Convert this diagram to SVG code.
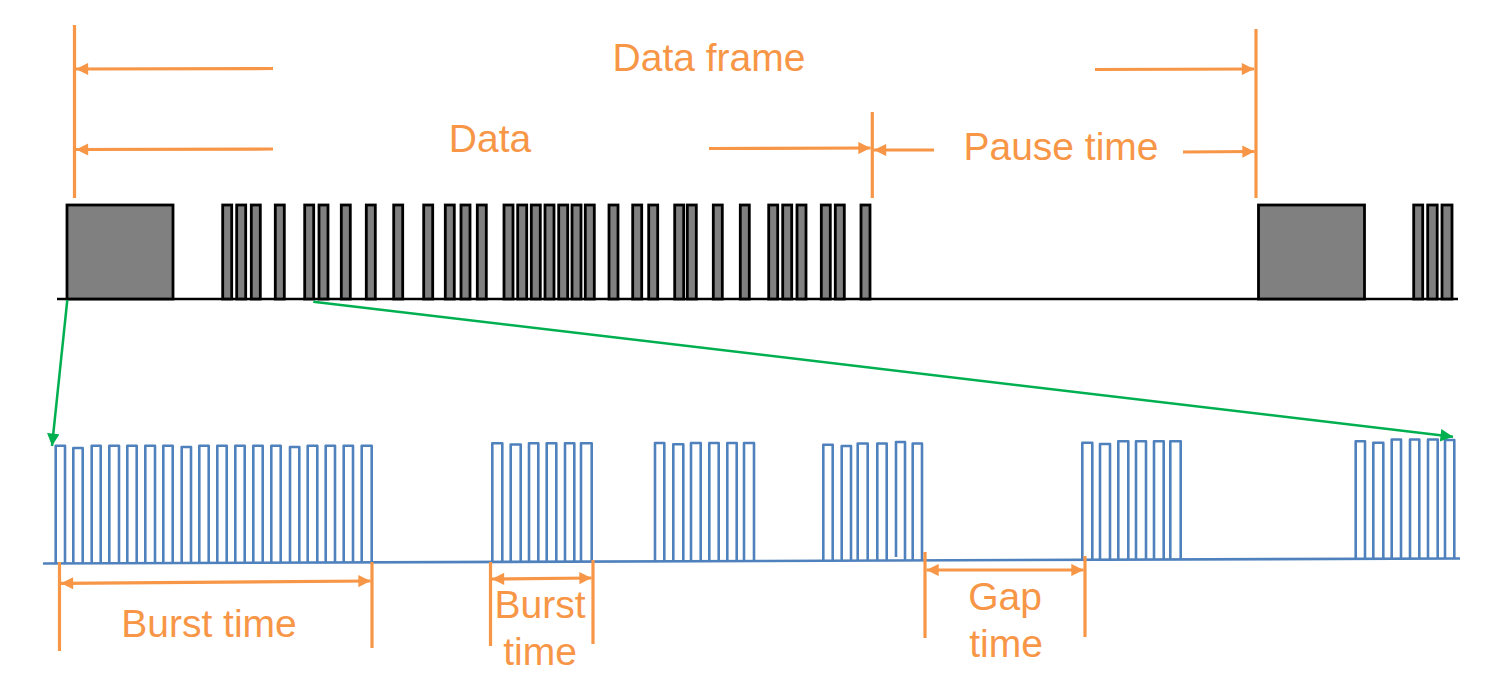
<svg xmlns="http://www.w3.org/2000/svg" width="1496" height="680" viewBox="0 0 1496 680">
<style>
.o{stroke:#F79646;stroke-width:3.2;fill:none}
.t{fill:#F79646;font-family:"Liberation Sans",Arial,sans-serif;font-size:39px}
.p{fill:#808080;stroke:#000;stroke-width:2.8}
.b{stroke:#4F81BD;stroke-width:2.6;fill:none;stroke-linejoin:round}
.g{stroke:#00B050;stroke-width:2.5;fill:none}
</style>
<defs>
<marker id="ah" viewBox="0 0 10 10" refX="10" refY="5" markerWidth="4.2" markerHeight="3.8" orient="auto-start-reverse" markerUnits="strokeWidth">
<path d="M0,0 L10,5 L0,10 z" fill="#F79646"/>
</marker>
<marker id="gh" viewBox="0 0 10 10" refX="10" refY="5" markerWidth="5.5" markerHeight="5" orient="auto" markerUnits="strokeWidth">
<path d="M0,0 L10,5 L0,10 z" fill="#00B050"/>
</marker>
</defs>

<g id="top-signal">
<line x1="57" y1="299" x2="1458" y2="299" stroke="#000" stroke-width="2.6"/>
<rect class="p" x="67" y="205" width="106" height="94"/>
<rect class="p" x="1258.5" y="205" width="106" height="94"/>
<g id="data-pulses">
<rect class="p" x="222.7" y="205" width="9" height="94"/>
<rect class="p" x="236.7" y="205" width="9" height="94"/>
<rect class="p" x="251.3" y="205" width="9" height="94"/>
<rect class="p" x="275.3" y="205" width="9" height="94"/>
<rect class="p" x="304.7" y="205" width="9" height="94"/>
<rect class="p" x="319" y="205" width="9" height="94"/>
<rect class="p" x="341.3" y="205" width="9" height="94"/>
<rect class="p" x="366.3" y="205" width="9" height="94"/>
<rect class="p" x="393.7" y="205" width="9" height="94"/>
<rect class="p" x="423.7" y="205" width="9" height="94"/>
<rect class="p" x="445.3" y="205" width="9" height="94"/>
<rect class="p" x="461" y="205" width="9" height="94"/>
<rect class="p" x="477.3" y="205" width="9" height="94"/>
<rect class="p" x="504" y="205" width="9" height="94"/>
<rect class="p" x="517.7" y="205" width="9" height="94"/>
<rect class="p" x="531.3" y="205" width="9" height="94"/>
<rect class="p" x="545" y="205" width="9" height="94"/>
<rect class="p" x="558.7" y="205" width="9" height="94"/>
<rect class="p" x="572" y="205" width="9" height="94"/>
<rect class="p" x="585.3" y="205" width="9" height="94"/>
<rect class="p" x="609" y="205" width="9" height="94"/>
<rect class="p" x="632.7" y="205" width="9" height="94"/>
<rect class="p" x="648.7" y="205" width="9" height="94"/>
<rect class="p" x="674.7" y="205" width="9" height="94"/>
<rect class="p" x="687.3" y="205" width="9" height="94"/>
<rect class="p" x="713.3" y="205" width="9" height="94"/>
<rect class="p" x="740.3" y="205" width="9" height="94"/>
<rect class="p" x="768.7" y="205" width="9" height="94"/>
<rect class="p" x="782.7" y="205" width="9" height="94"/>
<rect class="p" x="797" y="205" width="9" height="94"/>
<rect class="p" x="821.3" y="205" width="9" height="94"/>
<rect class="p" x="835.3" y="205" width="9" height="94"/>
<rect class="p" x="861" y="205" width="9" height="94"/>
</g>
<rect class="p" x="1413.7" y="205" width="9" height="94"/>
<rect class="p" x="1427.7" y="205" width="9.5" height="94"/>
<rect class="p" x="1442" y="205" width="10" height="94"/>
</g>

<g id="bottom-signal">
<line class="b" x1="43" y1="563.5" x2="1460" y2="558.5" stroke-width="3"/>
<path class="b" d="M55.7,563 V445.7 H65 V563 M73.3,563 V448 H82.7 V563 M91.7,563 V445.7 H100.7 V563 M109.3,563 V445.7 H119 V563 M127.3,563 V445.7 H136.7 V563 M145.3,563 V445.7 H155 V563 M163.3,563 V445.7 H172.7 V563 M181.7,563 V447 H191 V563 M199.3,563 V445.7 H208.7 V563 M217.3,563 V445.7 H226.7 V563 M235.3,563 V445.7 H244.7 V563 M253.3,563 V445.7 H262.7 V563 M271.3,563 V445.7 H280.7 V563 M290,563 V447 H299.3 V563 M307.7,563 V445.7 H317.3 V563 M325.7,563 V445.7 H335 V563 M343.7,563 V445.7 H353 V563 M361.7,563 V445.7 H371.7 V563"/>
<path class="b" d="M492.3,562 V443.3 H502.3 V562 M510.7,562 V444.5 H520.7 V562 M529,562 V443.3 H538.3 V562 M546.7,562 V443.3 H556.3 V562 M565,562 V443.3 H574.3 V562 M581,562 V443.3 H591.7 V562"/>
<path class="b" d="M655,561 V443 H664.3 V561 M673.3,561 V444.3 H683.3 V561 M691,561 V443 H700.7 V561 M709.3,561 V443 H718.7 V561 M727.3,561 V443 H736.7 V561 M744,561 V443 H754 V561"/>
<path class="b" d="M823.3,560.5 V444.7 H832.7 V560.5 M841.7,560.5 V446 H851 V560.5 M857.7,560.5 V443.5 H867.7 V560.5 M877.3,560.5 V443.5 H886.7 V560.5 M896,557 V442 H905 V560.5 M912.7,560.5 V443.5 H922 V560.5"/>
<path class="b" d="M1082.3,560 V442.7 H1092.3 V560 M1100,560 V444 H1110 V560 M1118.3,560 V441.3 H1128.3 V560 M1136,560 V441.3 H1146 V560 M1154,560 V441.3 H1163.7 V560 M1170.3,560 V441.3 H1180.7 V560"/>
<path class="b" d="M1355.7,558.7 V441.3 H1365 V558.7 M1373.3,558.7 V442.7 H1383.3 V558.7 M1391.7,558.7 V439.5 H1401 V558.7 M1410,558.7 V439.5 H1419.3 V558.7 M1428,558.7 V439.5 H1437.7 V558.7 M1445,558.7 V440 H1454.3 V558.7"/>
</g>

<g id="connectors">
<line class="g" x1="67.3" y1="300" x2="52" y2="446" marker-end="url(#gh)"/>
<line class="g" x1="313.3" y1="301.7" x2="1453" y2="436.7" marker-end="url(#gh)"/>
</g>

<g id="data-frame-dim">
<line class="o" x1="74.5" y1="25" x2="74.5" y2="198"/>
<line class="o" x1="1256" y1="29" x2="1256" y2="198"/>
<line class="o" x1="273" y1="68.5" x2="76" y2="69" marker-end="url(#ah)"/>
<line class="o" x1="1095" y1="69.5" x2="1254" y2="69" marker-end="url(#ah)"/>
<text class="t" x="709" y="71" text-anchor="middle">Data frame</text>
</g>

<g id="data-dim">
<line class="o" x1="872.3" y1="112" x2="872.3" y2="198"/>
<line class="o" x1="273" y1="149" x2="76" y2="149.5" marker-end="url(#ah)"/>
<line class="o" x1="709" y1="148.5" x2="870.5" y2="148" marker-end="url(#ah)"/>
<text class="t" x="490" y="152" text-anchor="middle">Data</text>
</g>

<g id="pause-dim">
<line class="o" x1="934" y1="150" x2="874" y2="150" marker-end="url(#ah)"/>
<line class="o" x1="1183" y1="152" x2="1254.5" y2="151.5" marker-end="url(#ah)"/>
<text class="t" x="1061" y="160" text-anchor="middle">Pause time</text>
</g>

<g id="burst-dim-1">
<line class="o" x1="59.5" y1="562" x2="59.5" y2="651"/>
<line class="o" x1="372" y1="562" x2="372" y2="648"/>
<line class="o" x1="61" y1="583.3" x2="370.5" y2="581" marker-start="url(#ah)" marker-end="url(#ah)"/>
<text class="t" x="209" y="637" text-anchor="middle">Burst time</text>
</g>

<g id="burst-dim-2">
<line class="o" x1="490.5" y1="562" x2="490.5" y2="646"/>
<line class="o" x1="593" y1="560" x2="593" y2="644"/>
<line class="o" x1="492" y1="579" x2="591.5" y2="578" marker-start="url(#ah)" marker-end="url(#ah)"/>
<text class="t" x="540" y="618" text-anchor="middle">Burst</text>
<text class="t" x="540" y="665" text-anchor="middle">time</text>
</g>

<g id="gap-dim">
<line class="o" x1="925" y1="552" x2="925" y2="638"/>
<line class="o" x1="1085" y1="556" x2="1085" y2="637"/>
<line class="o" x1="926.5" y1="570" x2="1083.5" y2="570" marker-start="url(#ah)" marker-end="url(#ah)"/>
<text class="t" x="1005" y="610" text-anchor="middle">Gap</text>
<text class="t" x="1006" y="657" text-anchor="middle">time</text>
</g>
</svg>
